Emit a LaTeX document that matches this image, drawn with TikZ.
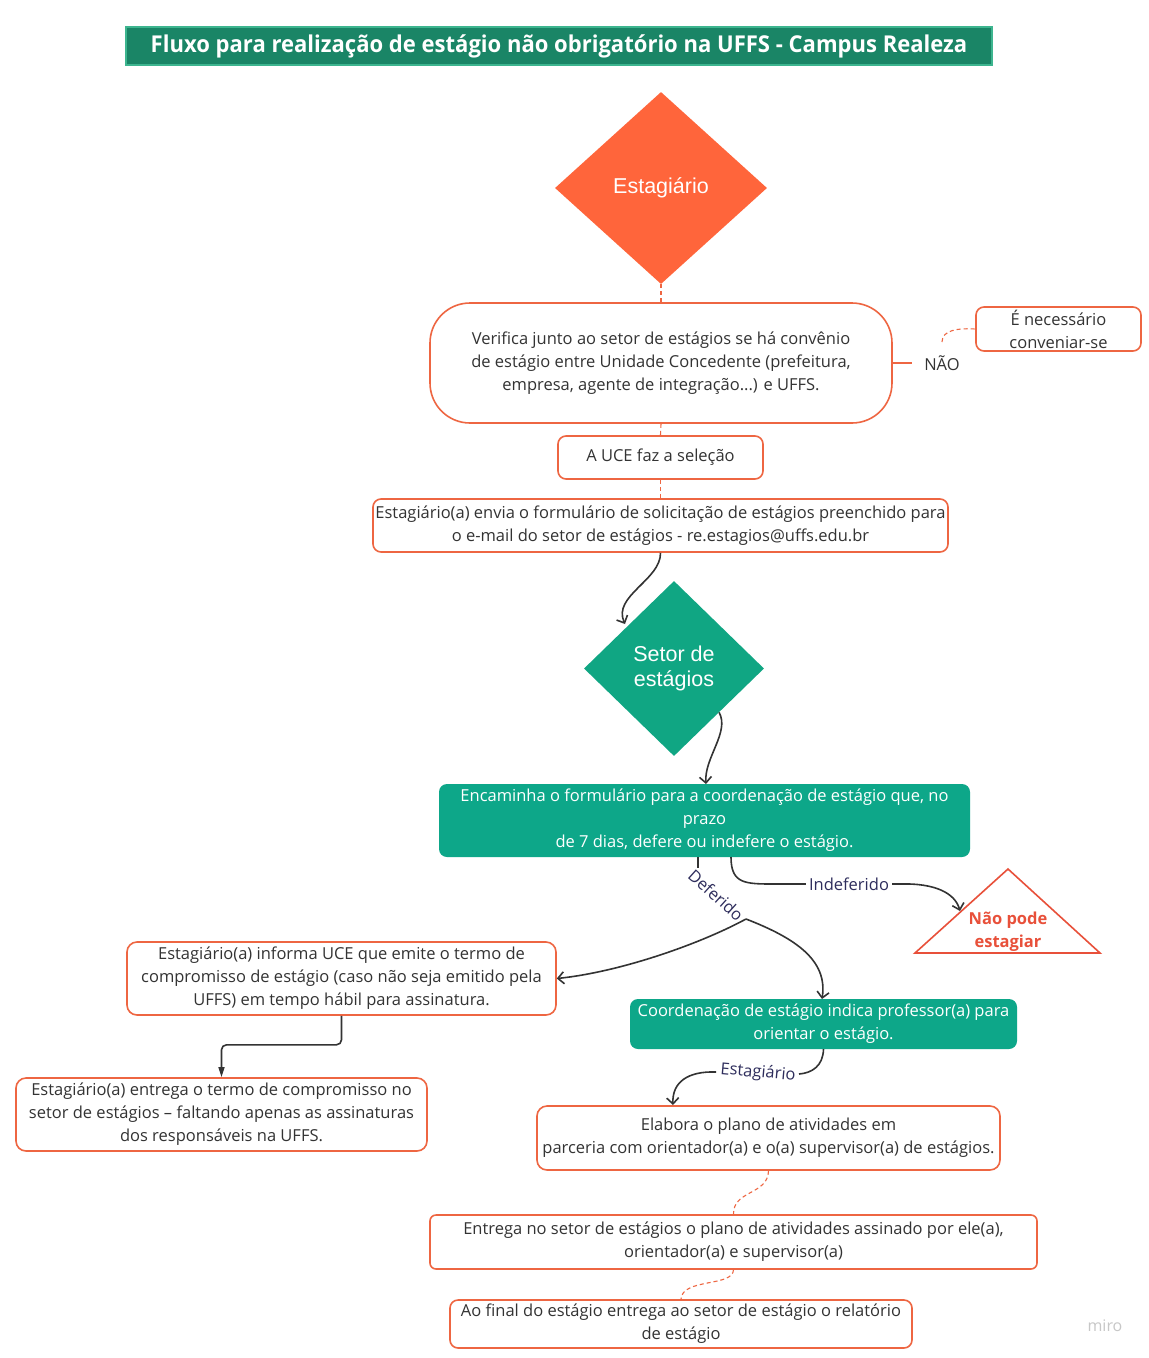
\documentclass[tikz,border=0pt]{standalone}
\usepackage{fontspec}
\setmainfont{Open Sans}
\newfontfamily\arialf{Liberation Sans}
\newfontfamily\titlef[FakeStretch=0.95]{Open Sans}
\usetikzlibrary{shapes.geometric,arrows.meta}
\definecolor{orline}{HTML}{EE6642}
\definecolor{oranfill}{HTML}{FF653B}
\definecolor{grn}{HTML}{0DA789}
\definecolor{grnd}{HTML}{10A683}
\definecolor{titfill}{HTML}{1A8566}
\definecolor{titline}{HTML}{3DB58F}
\definecolor{txt}{HTML}{333333}
\definecolor{lbl}{HTML}{2E2D5C}
\definecolor{conncol}{HTML}{333333}
\definecolor{redtxt}{HTML}{E8503A}
\newcommand{\fs}{\fontsize{16.5}{23}\selectfont}
\tikzset{
  obox/.style={draw=orline, line width=1.6pt, rounded corners=8pt, fill=white, inner sep=0pt, align=center, text=txt, font=\fs},
  gbox/.style={fill=grn, rounded corners=8pt, inner sep=0pt, align=center, text=white, font=\fs},
  conn/.style={draw=conncol, line width=1.6pt},
  dconn/.style={draw=orline, line width=1.1pt, dash pattern=on 4pt off 3pt},
  tipo/.style={-{Straight Barb[length=6pt,width=12pt]}},
  lab/.style={text=lbl, font=\fs, inner sep=1pt},
}
\begin{document}
\begin{tikzpicture}[x=1pt,y=-1pt]
\useasboundingbox[fill=white] (0,0) rectangle (1149,1358);
% title
\node[draw=titline, line width=1.2pt, fill=titfill, minimum width=866pt, minimum height=38pt, inner sep=0pt, text=white, font=\titlef\bfseries\fontsize{23.2}{26}\selectfont] (title) at (559,46) {Fluxo para realização de estágio não obrigatório na UFFS - Campus Realeza};
% diamond 1
\node[diamond, fill=oranfill, minimum width=212pt, minimum height=192pt, inner sep=0pt, text=white, font=\arialf\fontsize{21.5}{25}\selectfont] (est) at (661,188) {Estagiário};
% box1
\node[obox, rounded corners=40pt, minimum width=462pt, minimum height=120pt] (ver) at (661,363) {Verifica junto ao setor de estágios se há convênio\\de estágio entre Unidade Concedente (prefeitura,\\empresa, agente de integração...) e UFFS.};
\node[obox, minimum width=165pt, minimum height=44pt] (conv) at (1058.5,329) {É necessário\\conveniar-se};
\node[text=txt, font=\fs, inner sep=0pt] (nao) at (942,363) {NÃO};
\coordinate (naol) at (912,363);
\node[obox, minimum width=205pt, minimum height=43pt] (uce) at (660.5,457.5) {A UCE faz a seleção};
\node[obox, minimum width=575pt, minimum height=53pt] (envia) at (660.5,525.5) {Estagiário(a) envia o formulário de solicitação de estágios preenchido para\\o e-mail do setor de estágios - re.estagios@uffs.edu.br};
% diamond 2
\node[diamond, fill=grnd, minimum width=180pt, minimum height=175pt, inner sep=0pt, align=center, text=white, font=\arialf\fontsize{21.5}{25}\selectfont] (setor) at (674,668.5) {Setor de\\estágios};
\node[gbox, minimum width=531pt, minimum height=73pt] (enc) at (704.5,820.5) {Encaminha o formulário para a coordenação de estágio que, no\\prazo\\de 7 dias, defere ou indefere o estágio.};
% triangle
\coordinate (t1) at (915,953);
\coordinate (t2) at (1008,869);
\coordinate (t3) at (1100,953);
\draw[draw=redtxt, line width=1.6pt, line join=miter] (t1) -- (t2) -- (t3) -- cycle;
\node[text=redtxt, font=\bfseries\fs, align=center, inner sep=0pt] (naopode) at (1008,932) {Não pode\\estagiar};
\coordinate (tleft) at (960,911);
% left boxes
\node[obox, rounded corners=10pt, minimum width=429pt, minimum height=73pt] (inf) at (341.5,978.5) {Estagiário(a) informa UCE que emite o termo de\\compromisso de estágio (caso não seja emitido pela\\UFFS) em tempo hábil para assinatura.};
\node[obox, rounded corners=10pt, minimum width=411pt, minimum height=73pt] (entr) at (221.5,1114.5) {Estagiário(a) entrega o termo de compromisso no\\setor de estágios – faltando apenas as assinaturas\\dos responsáveis na UFFS.};
% right column
\node[gbox, minimum width=387pt, minimum height=50pt] (coord) at (823.5,1024) {Coordenação de estágio indica professor(a) para\\orientar o estágio.};
\node[obox, rounded corners=10pt, minimum width=463pt, minimum height=64pt] (elab) at (768.5,1138) {Elabora o plano de atividades em\\parceria com orientador(a) e o(a) supervisor(a) de estágios.};
\node[obox, rounded corners=6pt, minimum width=607pt, minimum height=54pt] (entr2) at (733.5,1242) {Entrega no setor de estágios o plano de atividades assinado por ele(a),\\orientador(a) e supervisor(a)};
\node[obox, minimum width=462pt, minimum height=48pt] (final) at (681,1324) {Ao final do estágio entrega ao setor de estágio o relatório\\de estágio};
% watermark
\node[text=black!22, font=\fontsize{16}{18}\selectfont] (miro) at (1105,1326) {miro};

% connectors (dashed)
\draw[dconn] (est.south) -- (ver.north);
\draw[dconn] (ver.south) -- (uce.north);
\draw[dconn] (uce.south) -- (envia.north);
\draw[draw=orline, line width=1.6pt] (ver.east) -- (naol);
\coordinate (naotop) at (942,342);
\draw[dconn] (naotop) .. controls (942,330) and (958,328) .. (conv.west);
\draw[dconn] (elab.south) .. controls (768,1195) and (733,1190) .. (entr2.north);
\draw[dconn] (entr2.south) .. controls (733,1287) and (682,1278) .. (final.north);

% solid connectors
\coordinate (sein) at (625,624);
\draw[conn, tipo] (envia.south) .. controls (661,580) and (612,596) .. (sein);
\coordinate (encin) at (706,784);
\draw[conn, tipo] (setor.south east) .. controls (730,732) and (704,758) .. (encin);
% Indeferido
\coordinate (indst) at (731,857);
\draw[conn, tipo] (indst) .. controls (731,884) and (745,884) .. (775,884) -- (900,884) .. controls (935,883) and (955,893) .. (tleft);
\node[lab, fill=white, inner sep=3pt] (indlab) at (849,884) {Indeferido};
% Deferido
\coordinate (defst) at (698,857);
\coordinate (defend) at (698,868);
\coordinate (defsp) at (746,919);
\draw[conn] (defst) -- (defend);
\node[lab, rotate=-42, inner sep=0pt] (deflab) at (716,895) {Deferido};
\draw[conn, tipo] (defsp) .. controls (700,944) and (620,972) .. (inf.east);
\coordinate (coordin) at (822,999);
\draw[conn, tipo] (defsp) .. controls (795,938) and (828,960) .. (coordin);
% elbow
\draw[conn, rounded corners=5pt, -{Triangle[length=10pt,width=6pt]}] (inf.south) -- ++(0,29) -| (entr.north);
% Estagiario
\coordinate (elabin) at (673,1105);
\coordinate (estl) at (716,1072);
\coordinate (estr) at (799,1074);
\draw[conn] (coord.south) .. controls (823,1066) and (812,1073) .. (estr);
\node[lab, rotate=-5, inner sep=0pt] (estlab) at (758,1073) {Estagiário};
\draw[conn, tipo] (estl) .. controls (688,1071) and (672,1082) .. (elabin);
\end{tikzpicture}
\end{document}
